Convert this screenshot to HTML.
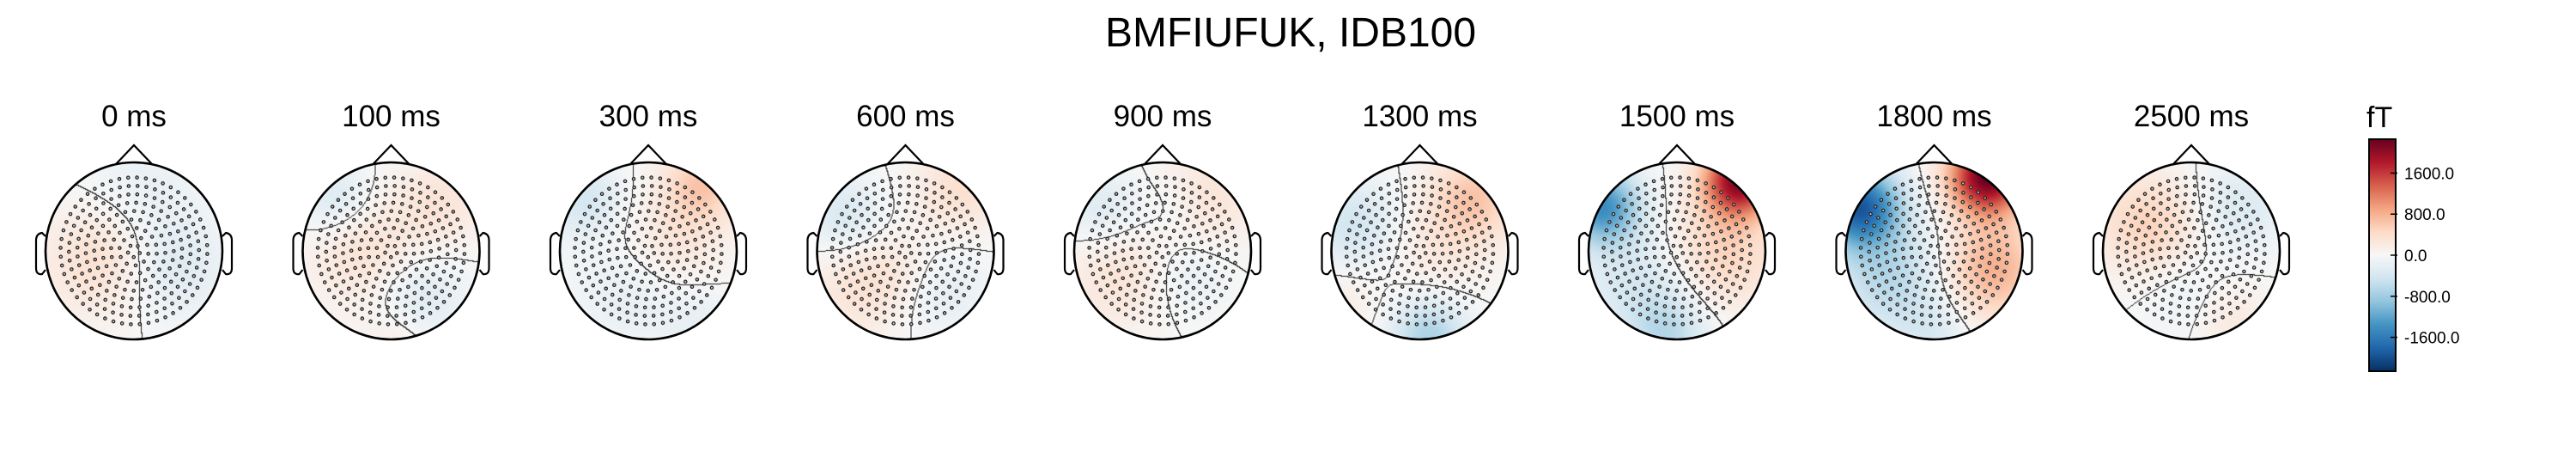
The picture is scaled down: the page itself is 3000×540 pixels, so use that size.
<!DOCTYPE html>
<html><head><meta charset="utf-8"><style>
html,body{margin:0;padding:0;background:#fff;}
#wrap{position:relative;width:3000px;height:540px;overflow:hidden;font-family:"Liberation Sans",sans-serif;}
</style></head><body>
<div id="wrap">
<svg id="fig" width="3000" height="540" xmlns="http://www.w3.org/2000/svg" style="position:absolute;left:0;top:0">
<text x="1503" y="54" text-anchor="middle" font-size="48" font-family="Liberation Sans, sans-serif">BMFIUFUK, IDB100</text>
<defs>
<linearGradient id="cbar" x1="0" y1="1" x2="0" y2="0">
<stop offset="0" stop-color="rgb(5,48,97)"/><stop offset="0.1" stop-color="rgb(33,102,172)"/><stop offset="0.2" stop-color="rgb(67,147,195)"/><stop offset="0.3" stop-color="rgb(146,197,222)"/><stop offset="0.4" stop-color="rgb(209,229,240)"/><stop offset="0.5" stop-color="rgb(247,247,247)"/><stop offset="0.6" stop-color="rgb(253,219,199)"/><stop offset="0.7" stop-color="rgb(244,165,130)"/><stop offset="0.8" stop-color="rgb(214,96,77)"/><stop offset="0.9" stop-color="rgb(178,24,43)"/><stop offset="1" stop-color="rgb(103,0,31)"/>
</linearGradient>
</defs>
<g id="heads"></g>
<g>
<text x="2756" y="148" font-size="34" font-family="Liberation Sans, sans-serif">fT</text>
<rect x="2759" y="162" width="31" height="270" fill="url(#cbar)" stroke="#000" stroke-width="2"/>
<g id="cticks"></g>
</g>
</svg>
</div>
<script>
const timeLabels = ["0 ms","100 ms","300 ms","600 ms","900 ms","1300 ms","1500 ms","1800 ms","2500 ms"];
// blobs per head: [x, y, amplitude fT, width] in head-radius units
const blobs0 = [[-0.4,0.1,380,0.45],[0.45,0.2,-300,0.4],[0.1,-0.7,-170,0.5]];
const blobs1 = [[-0.3,0.0,340,0.45],[0.3,0.55,-360,0.35],[-0.65,-0.6,-360,0.3],[0.55,-0.55,280,0.35],[0.1,0.95,200,0.3]];
const blobs2 = [[0.6,-0.75,600,0.3],[0.3,-0.1,280,0.4],[-0.75,-0.6,-400,0.3],[-0.2,0.5,-200,0.45],[0.6,0.8,-170,0.3]];
const blobs3 = [[0.6,-0.7,360,0.35],[-0.5,0.4,320,0.4],[-0.7,-0.4,-360,0.3],[0.4,0.45,-230,0.35],[0.0,0.2,140,0.3]];
const blobs4 = [[0.5,-0.6,300,0.4],[-0.5,0.3,300,0.4],[-0.7,-0.5,-300,0.3],[0.3,0.3,-190,0.3],[0.1,-0.5,-140,0.25]];
const blobs5 = [[0.6,-0.6,620,0.35],[-0.75,-0.3,-430,0.35],[0.1,0.95,-720,0.3],[0.2,0.0,200,0.4],[-0.9,0.6,170,0.3]];
const blobs6 = [[0.7,-0.8,2050,0.28],[-0.85,-0.5,-1400,0.3],[0.5,0.0,520,0.45],[-0.4,0.4,-420,0.45],[-0.1,0.95,-520,0.3]];
const blobs7 = [[0.6,-0.85,2250,0.3],[-0.85,-0.5,-1850,0.32],[0.65,0.2,820,0.4],[-0.5,0.3,-620,0.45],[0.0,0.95,-280,0.3]];
const blobs8 = [[-0.5,-0.3,520,0.4],[0.55,-0.5,-330,0.35],[0.45,0.8,220,0.3],[-0.1,0.5,-140,0.35]];
const allBlobs = [blobs0,blobs1,blobs2,blobs3,blobs4,blobs5,blobs6,blobs7,blobs8];
const cbTicks = [1600,800,0,-800,-1600];
const cbLabels = ["1600.0","800.0","0.0","-800.0","-1600.0"];

const vmax = 2260;
const NS="http://www.w3.org/2000/svg";
const x0 = 156, dx = 299.5, cy = 292, R = 103;
const cbTop = 162, cbBot = 432;
function cbY(v){ return (cbTop+cbBot)/2 - v/vmax*(cbBot-cbTop)/2; }
function headX(i){ return x0 + dx*i; }
const stops=[[5,48,97],[33,102,172],[67,147,195],[146,197,222],[209,229,240],[247,247,247],[253,219,199],[244,165,130],[214,96,77],[178,24,43],[103,0,31]];
function cmap(v){
  let t=(v/vmax+1)/2; t=Math.max(0,Math.min(1,t))*10;
  const i=Math.min(9,Math.floor(t)), f=t-i, a=stops[i], b=stops[i+1];
  return [a[0]+(b[0]-a[0])*f,a[1]+(b[1]-a[1])*f,a[2]+(b[2]-a[2])*f];
}
function field(bl,x,y){ let s=0; for(const b of bl){const dx_=x-b[0],dy_=y-b[1]; s+=b[2]*Math.exp(-(dx_*dx_+dy_*dy_)/(2*b[3]*b[3]));} return s; }

const heads=document.getElementById('heads');
// sensor layout (concentric rings)
const sensors=[];
for(let r=0.07;r<0.9;r+=0.095){ const n=Math.max(5,Math.round(2*Math.PI*r/0.1)); const off=r*5; for(let k=0;k<n;k++){const a=off+2*Math.PI*k/n; sensors.push([r*Math.cos(a), r*Math.sin(a)]);} }

timeLabels.forEach((lab,i)=>{
  const cx=headX(i);
  const g=document.createElementNS(NS,'g');
  
  
  heads.appendChild(g);
  const t=document.createElementNS(NS,'text');
  t.setAttribute('x',cx); t.setAttribute('y',147); t.setAttribute('text-anchor','middle');
  t.setAttribute('font-size','35'); t.setAttribute('font-family','Liberation Sans, sans-serif');
  t.textContent=lab;
  
  
  g.appendChild(t);
  const S=2*R, cv=document.createElement('canvas'); cv.width=S; cv.height=S;
  const ctx=cv.getContext('2d'); const img=ctx.createImageData(S,S);
  const vals=new Float32Array(S*S);
  for(let py=0;py<S;py++)for(let px=0;px<S;px++){ vals[py*S+px]=field(allBlobs[i],(px-R)/R,(py-R)/R); }
  for(let py=0;py<S;py++)for(let px=0;px<S;px++){
    const v=vals[py*S+px], c=cmap(v), o=(py*S+px)*4;
    let edge=false;
    if(px+1<S && (v>0)!==(vals[py*S+px+1]>0)) edge=true;
    if(py+1<S && (v>0)!==(vals[(py+1)*S+px]>0)) edge=true;
    if(edge){img.data[o]=30;img.data[o+1]=30;img.data[o+2]=30;}
    else{img.data[o]=c[0];img.data[o+1]=c[1];img.data[o+2]=c[2];}
    const dd=Math.hypot(px-R+0.5,py-R+0.5);
    img.data[o+3]= dd<R?255:0;
  }
  ctx.putImageData(img,0,0);
  const im=document.createElementNS(NS,'image');
  im.setAttribute('x',cx-R); im.setAttribute('y',cy-R); im.setAttribute('width',S); im.setAttribute('height',S);
  im.setAttribute('href',cv.toDataURL());
  
  
  g.appendChild(im);
  const sg=document.createElementNS(NS,'g');
  
  
  for(const s of sensors){const c=document.createElementNS(NS,'circle');c.setAttribute('cx',cx+s[0]*R);c.setAttribute('cy',cy+s[1]*R);c.setAttribute('r',1.7);c.setAttribute('fill','#bbb');c.setAttribute('stroke','#222');c.setAttribute('stroke-width','1.2');sg.appendChild(c);}
  g.appendChild(sg);
  const hd=document.createElementNS(NS,'circle');
  hd.setAttribute('cx',cx);hd.setAttribute('cy',cy);hd.setAttribute('r',R);hd.setAttribute('fill','none');hd.setAttribute('stroke','#000');hd.setAttribute('stroke-width','2.6');
  
  
  g.appendChild(hd);
  const ns=document.createElementNS(NS,'path');
  ns.setAttribute('d',`M${cx-21},${cy-R+2} L${cx},${cy-R-20} L${cx+21},${cy-R+2}`);ns.setAttribute('fill','none');ns.setAttribute('stroke','#000');ns.setAttribute('stroke-width','2.2');
  
  
  g.appendChild(ns);
  [-1,1].forEach(sd=>{
    const e=document.createElementNS(NS,'path');
    const xe=cx+sd*R, xo=cx+sd*(R+11);
    e.setAttribute('d',`M${xe},${cy-17} L${xe+sd*4},${cy-21} Q${xo},${cy-20} ${xo},${cy-12} L${xo},${cy+20} Q${xo},${cy+28} ${xe+sd*4},${cy+27} L${xe},${cy+22}`);
    e.setAttribute('fill','none');e.setAttribute('stroke','#000');e.setAttribute('stroke-width','2.2');
    
    
    g.appendChild(e);
  });
});
const ct=document.getElementById('cticks');
cbTicks.forEach((v,k)=>{
  const y=cbY(v);
  const l=document.createElementNS(NS,'line');
  l.setAttribute('x1',2784);l.setAttribute('x2',2792);l.setAttribute('y1',y);l.setAttribute('y2',y);l.setAttribute('stroke','#000');l.setAttribute('stroke-width','1.5');
  
  
  ct.appendChild(l);
  const t=document.createElementNS(NS,'text');
  t.setAttribute('x',2800);t.setAttribute('y',y+7);t.setAttribute('font-size','19');t.setAttribute('font-family','Liberation Sans, sans-serif');
  t.textContent=cbLabels[k];
  
  
  ct.appendChild(t);
});
</script>
</body></html>
